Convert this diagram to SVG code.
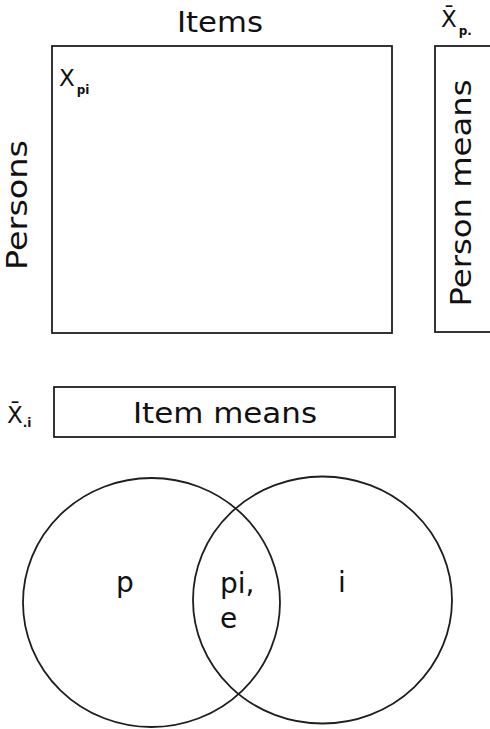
<svg xmlns="http://www.w3.org/2000/svg" width="490" height="729" viewBox="0 0 490 729">
<style>
.box{fill:none;stroke:#1e1e1e;stroke-width:1.8}
.t{font-family:"DejaVu Sans",Verdana,sans-serif;fill:#111}
.big{font-size:28px}
.sym{font-size:23px}
.sub{font-size:12px;font-weight:bold}
</style>
<rect width="490" height="729" fill="#fff"/>
<g id="matrix">
<rect class="box" x="52" y="46" width="340" height="287"/>
<text class="t big" x="220" y="32" text-anchor="middle" textLength="86" lengthAdjust="spacingAndGlyphs">Items</text>
<text class="t sym" x="59" y="86">X<tspan class="sub" dx="2" dy="8">pi</tspan></text>
<text class="t big" transform="translate(27,205) rotate(-90)" text-anchor="middle" textLength="130" lengthAdjust="spacingAndGlyphs">Persons</text>
</g>
<g id="person-means">
<rect class="box" x="435" y="46" width="70" height="286"/>
<text class="t big" transform="translate(471,193) rotate(-90)" text-anchor="middle" textLength="227" lengthAdjust="spacingAndGlyphs">Person means</text>
<text class="t sym" x="441" y="27">X̄<tspan class="sub" dx="2" dy="8">p.</tspan></text>
</g>
<g id="item-means">
<rect class="box" x="54" y="387" width="341" height="50"/>
<text class="t big" x="225" y="423" text-anchor="middle" textLength="184" lengthAdjust="spacingAndGlyphs">Item means</text>
<text class="t sym" x="7" y="423">X̄<tspan class="sub" dy="4">.i</tspan></text>
</g>
<g id="venn">
<ellipse class="box" cx="151.5" cy="602.5" rx="128.5" ry="124.5"/>
<ellipse class="box" cx="322.5" cy="600" rx="129.5" ry="123.5"/>
<text class="t big" x="116" y="592">p</text>
<text class="t big" x="220" y="593">pi,</text>
<text class="t big" x="220" y="628">e</text>
<text class="t big" x="338" y="592">i</text>
</g>
</svg>
